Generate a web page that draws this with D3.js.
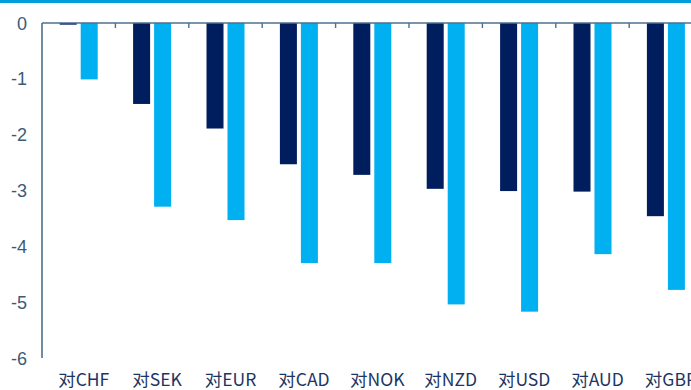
<!DOCTYPE html>
<html><head><meta charset="utf-8">
<script src="https://cdn.jsdelivr.net/npm/d3@7"></script>
<style>body{margin:0;background:#fff;}svg{display:block;}</style>
</head><body>
<svg id="c" width="691" height="390"></svg>
<script>
const categories = ["对CHF","对SEK","对EUR","对CAD","对NOK","对NZD","对USD","对AUD","对GBP"];
const seriesNames = ["series1","series2"];
const series1 = [-0.03,-1.45,-1.89,-2.53,-2.72,-2.97,-3.01,-3.02,-3.46];
const series2 = [-1.01,-3.29,-3.53,-4.30,-4.30,-5.04,-5.17,-4.14,-4.78];
const yTicks = [0,-1,-2,-3,-4,-5,-6];
const colors = ["#001E5E","#00B0F0"];

const svg = d3.select("#c");
const plotLeft = 42, bandStep = 73.4, plotTop = 23, plotBottom = 358;
const x0 = d3.scaleBand().domain(categories).range([plotLeft, plotLeft + bandStep*categories.length]).padding(0);
const x1 = d3.scaleBand().domain(seriesNames).range([0, x0.bandwidth()]).paddingInner(0.19).paddingOuter(0.843);
const y = d3.scaleLinear().domain([0,-6]).range([plotTop, plotBottom]);

// top stripe
svg.append("rect").attr("x",0).attr("y",0).attr("width",691).attr("height",3).attr("fill","#009FDC");

const data = categories.map((c,i)=>({c, vals:[series1[i], series2[i]]}));
const g = svg.append("g");
data.forEach(d=>{
  d.vals.forEach((v,j)=>{
    g.append("rect")
      .attr("x", x0(d.c) + x1(seriesNames[j]))
      .attr("y", y(0))
      .attr("width", x1.bandwidth())
      .attr("height", Math.max(1, y(v)-y(0)))
      .attr("fill", colors[j]);
  });
});

// y axis
const axisColor = "#4D7090";
svg.append("line").attr("x1",plotLeft).attr("x2",plotLeft).attr("y1",y(0)).attr("y2",y(-6))
  .attr("stroke",axisColor).attr("stroke-width",1.6);
svg.selectAll(".yl").data(yTicks).enter().append("text")
  .attr("x",27).attr("y",d=>y(d)+6.5).attr("text-anchor","end")
  .attr("font-family","Liberation Sans, Arial, sans-serif").attr("font-size",18)
  .attr("fill","#3B5A78").text(d=>d);

// x axis at zero
svg.append("line").attr("x1",plotLeft).attr("x2",691).attr("y1",y(0)).attr("y2",y(0))
  .attr("stroke",axisColor).attr("stroke-width",1.6);
const bounds = categories.slice(1).map(c=>x0(c));
svg.selectAll(".tk").data(bounds).enter().append("line")
  .attr("x1",d=>d).attr("x2",d=>d).attr("y1",y(0)).attr("y2",y(0)+5)
  .attr("stroke",axisColor).attr("stroke-width",1.4);

// x labels
svg.selectAll(".xl").data(categories).enter().append("text")
  .attr("x",d=>x0(d)+x0.bandwidth()/2+5).attr("y",386).attr("text-anchor","middle")
  .attr("font-family","Noto Sans CJK SC, Noto Sans, sans-serif").attr("font-size",17.5)
  .attr("fill","#1C3563").text(d=>d);
</script>
</body></html>
